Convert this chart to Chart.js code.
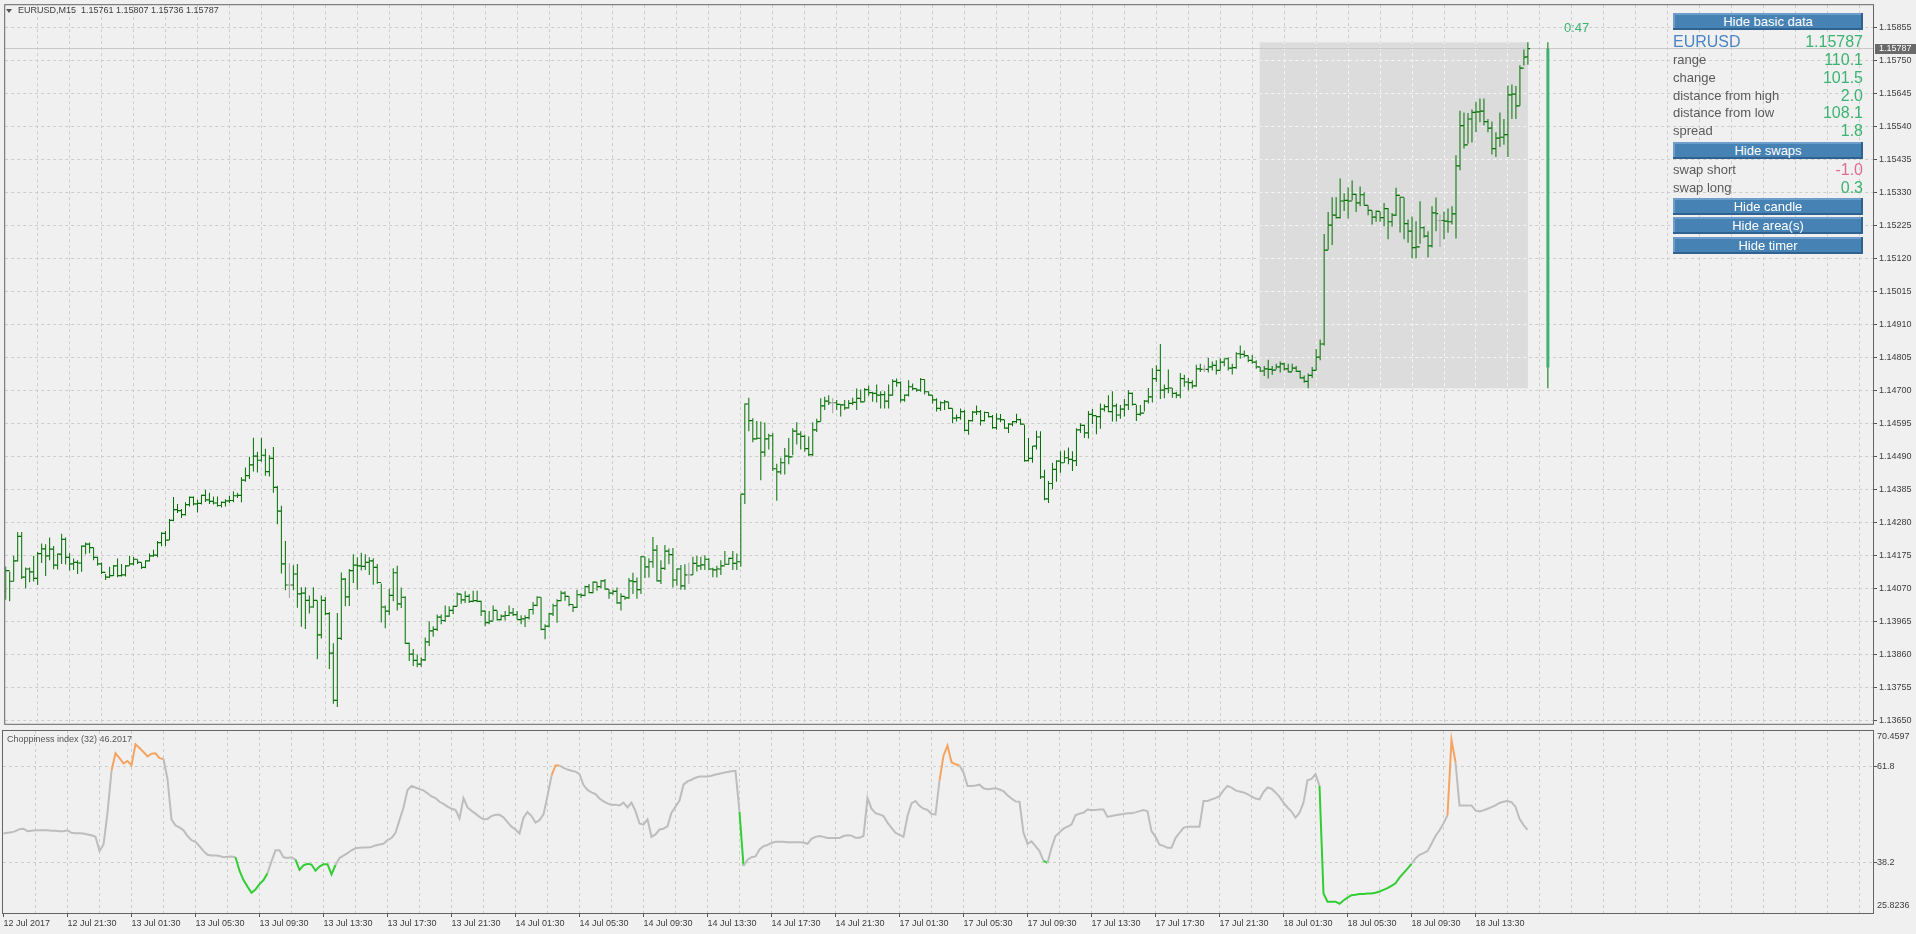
<!DOCTYPE html>
<html>
<head>
<meta charset="utf-8">
<title>EURUSD,M15</title>
<script src="https://cdn.jsdelivr.net/npm/chart.js@4.4.1/dist/chart.umd.min.js"></script>
<style>
  body { margin: 0; background: #f0f0f0; font-family: "Liberation Sans", Arial, sans-serif; }
  #wrap { position: relative; width: 1916px; height: 934px; overflow: hidden; }
  canvas { position: absolute; left: 0; }
  #priceCanvas { top: 0; }
  #chopCanvas { top: 729px; }
  .txt { position: absolute; white-space: pre; }
  #arrow { position: absolute; left: 6px; top: 9px; width: 0; height: 0;
           border-left: 3px solid transparent; border-right: 3px solid transparent; border-top: 4px solid #555; }
  .btn { position: absolute; left: 1673px; width: 190px; height: 17px; background: #4682b4; color: #fff;
         font-size: 13px; line-height: 17px; text-align: center;
         box-shadow: inset -2px -2px 0 #2f6290, inset 2px 2px 0 #6d9dcc; }
  .lbl { position: absolute; left: 1673px; font-size: 13px; color: #5a5a5a; line-height: 18px; white-space: nowrap; }
  .val { position: absolute; right: 53px; font-size: 16px; color: #3cb371; line-height: 18px; text-align: right; white-space: nowrap; }
</style>
</head>
<body>
<div id="wrap">
  <canvas id="priceCanvas" width="1916" height="729"></canvas>
  <canvas id="chopCanvas" width="1916" height="205"></canvas>
</div>
<script>
// ---- data ----
const symbol = "EURUSD,M15";
const timeLabels = ["12 Jul 2017", "12 Jul 21:30", "13 Jul 01:30", "13 Jul 05:30", "13 Jul 09:30", "13 Jul 13:30",
  "13 Jul 17:30", "13 Jul 21:30", "14 Jul 01:30", "14 Jul 05:30", "14 Jul 09:30", "14 Jul 13:30",
  "14 Jul 17:30", "14 Jul 21:30", "17 Jul 01:30", "17 Jul 05:30", "17 Jul 09:30", "17 Jul 13:30",
  "17 Jul 17:30", "17 Jul 21:30", "18 Jul 01:30", "18 Jul 05:30", "18 Jul 09:30", "18 Jul 13:30"];
const priceTicks = [1.13650, 1.13755, 1.13860, 1.13965, 1.14070, 1.14175, 1.14280, 1.14385, 1.14490, 1.14595,
  1.14700, 1.14805, 1.14910, 1.15015, 1.15120, 1.15225, 1.15330, 1.15435, 1.15540, 1.15645, 1.15750, 1.15855];
const chopLevels = [38.2, 61.8];
const chopRange = [25.8236, 70.4597];
const priceRange = [1.136383, 1.159252];

const highs = [
  1.14139,1.14123,1.14173,1.14249,1.14249,1.14136,1.14136,1.14173,1.14185,1.14212,
  1.14210,1.14231,1.14204,1.14180,1.14243,1.14231,1.14181,1.14164,1.14159,1.14206,
  1.14215,1.14215,1.14199,1.14170,1.14152,1.14115,1.14138,1.14144,1.14164,1.14147,
  1.14144,1.14173,1.14170,1.14162,1.14152,1.14159,1.14180,1.14192,1.14220,1.14248,
  1.14252,1.14290,1.14360,1.14338,1.14322,1.14343,1.14362,1.14362,1.14351,1.14367,
  1.14383,1.14374,1.14362,1.14362,1.14346,1.14353,1.14364,1.14378,1.14374,1.14423,
  1.14454,1.14488,1.14549,1.14504,1.14549,1.14514,1.14493,1.14519,1.14396,1.14332,
  1.14220,1.14149,1.14143,1.14147,1.14073,1.14073,1.14047,1.14073,1.14031,1.14047,
  1.14042,1.13994,1.13895,1.13991,1.14120,1.14102,1.14131,1.14178,1.14168,1.14183,
  1.14178,1.14168,1.14165,1.14147,1.14085,1.14015,1.14068,1.14133,1.14141,1.14072,
  1.14044,1.13897,1.13876,1.13860,1.13850,1.13913,1.13965,1.13949,1.13986,1.13986,
  1.14015,1.14012,1.14015,1.14056,1.14051,1.14060,1.14051,1.14062,1.14062,1.14030,
  1.13999,1.13997,1.14015,1.13999,1.13986,1.13997,1.14015,1.14007,1.13997,1.13984,
  1.13984,1.14004,1.14026,1.14044,1.14041,1.13955,1.13991,1.14020,1.14035,1.14062,
  1.14060,1.14044,1.14018,1.14065,1.14054,1.14078,1.14083,1.14091,1.14089,1.14096,
  1.14099,1.14067,1.14065,1.14072,1.14054,1.14044,1.14102,1.14119,1.14104,1.14172,
  1.14170,1.14165,1.14233,1.14207,1.14159,1.14207,1.14196,1.14198,1.14133,1.14144,
  1.14146,1.14152,1.14170,1.14173,1.14170,1.14175,1.14165,1.14135,1.14141,1.14159,
  1.14188,1.14167,1.14188,1.14180,1.14369,1.14658,1.14676,1.14611,1.14602,1.14600,
  1.14597,1.14561,1.14564,1.14466,1.14485,1.14516,1.14548,1.14579,1.14598,1.14569,
  1.14558,1.14553,1.14598,1.14609,1.14674,1.14679,1.14684,1.14674,1.14669,1.14655,
  1.14669,1.14669,1.14676,1.14705,1.14702,1.14707,1.14714,1.14695,1.14718,1.14697,
  1.14697,1.14718,1.14735,1.14737,1.14728,1.14686,1.14732,1.14721,1.14705,1.14739,
  1.14735,1.14697,1.14684,1.14674,1.14665,1.14669,1.14663,1.14642,1.14623,1.14642,
  1.14637,1.14606,1.14634,1.14651,1.14637,1.14632,1.14630,1.14621,1.14627,1.14624,
  1.14606,1.14595,1.14602,1.14625,1.14609,1.14590,1.14548,1.14522,1.14571,1.14569,
  1.14447,1.14411,1.14469,1.14477,1.14506,1.14508,1.14518,1.14506,1.14579,1.14595,
  1.14590,1.14634,1.14640,1.14619,1.14658,1.14655,1.14684,1.14697,1.14658,1.14653,
  1.14672,1.14700,1.14693,1.14653,1.14653,1.14669,1.14707,1.14770,1.14779,1.14847,
  1.14718,1.14766,1.14707,1.14695,1.14755,1.14749,1.14739,1.14732,1.14781,1.14784,
  1.14781,1.14803,1.14791,1.14795,1.14802,1.14800,1.14805,1.14784,1.14821,1.14842,
  1.14826,1.14810,1.14812,1.14795,1.14774,1.14777,1.14797,1.14777,1.14784,1.14791,
  1.14787,1.14784,1.14784,1.14777,1.14763,1.14747,1.14753,1.14774,1.14831,1.14861,
  1.15197,1.15267,1.15314,1.15314,1.15374,1.15327,1.15346,1.15367,1.15325,1.15348,
  1.15330,1.15288,1.15272,1.15272,1.15269,1.15296,1.15280,1.15264,1.15344,1.15316,
  1.15313,1.15243,1.15253,1.15238,1.15301,1.15222,1.15206,1.15285,1.15313,1.15259,
  1.15269,1.15278,1.15285,1.15448,1.15589,1.15584,1.15582,1.15593,1.15618,1.15628,
  1.15628,1.15563,1.15555,1.15521,1.15584,1.15563,1.15670,1.15673,1.15668,1.15734,
  1.15784,1.15807];

const lows = [
  1.14033,1.14028,1.14091,1.14155,1.14099,1.14070,1.14089,1.14091,1.14080,1.14150,
  1.14109,1.14159,1.14130,1.14129,1.14147,1.14145,1.14126,1.14128,1.14115,1.14122,
  1.14178,1.14181,1.14159,1.14141,1.14115,1.14096,1.14102,1.14109,1.14105,1.14107,
  1.14107,1.14141,1.14143,1.14147,1.14131,1.14133,1.14155,1.14170,1.14168,1.14203,
  1.14204,1.14223,1.14283,1.14309,1.14293,1.14301,1.14330,1.14333,1.14311,1.14336,
  1.14344,1.14338,1.14336,1.14329,1.14327,1.14330,1.14341,1.14343,1.14357,1.14343,
  1.14409,1.14417,1.14441,1.14438,1.14472,1.14428,1.14425,1.14374,1.14273,1.14117,
  1.14063,1.14039,1.14063,1.14008,1.13947,1.13940,1.13989,1.14008,1.13844,1.13910,
  1.13984,1.13813,1.13702,1.13692,1.13905,1.14012,1.14013,1.14086,1.14065,1.14126,
  1.14128,1.14112,1.14081,1.14084,1.13961,1.13942,1.13984,1.14028,1.13999,1.14007,
  1.13892,1.13838,1.13822,1.13818,1.13820,1.13838,1.13886,1.13915,1.13934,1.13955,
  1.13962,1.13978,1.13988,1.14012,1.14020,1.14023,1.14023,1.14025,1.14025,1.13981,
  1.13949,1.13955,1.13967,1.13967,1.13967,1.13967,1.13981,1.13981,1.13970,1.13955,
  1.13946,1.13970,1.13986,1.14012,1.13936,1.13907,1.13945,1.13981,1.13960,1.14028,
  1.14030,1.14012,1.13994,1.14007,1.14039,1.14044,1.14054,1.14054,1.14062,1.14070,
  1.14065,1.14036,1.14049,1.14020,1.13999,1.14033,1.14036,1.14051,1.14036,1.14051,
  1.14102,1.14104,1.14135,1.14091,1.14083,1.14128,1.14146,1.14072,1.14078,1.14065,
  1.14065,1.14083,1.14112,1.14123,1.14128,1.14128,1.14128,1.14105,1.14104,1.14112,
  1.14144,1.14144,1.14128,1.14128,1.14138,1.14338,1.14569,1.14534,1.14543,1.14413,
  1.14488,1.14511,1.14443,1.14348,1.14432,1.14432,1.14464,1.14493,1.14527,1.14511,
  1.14504,1.14490,1.14490,1.14567,1.14600,1.14637,1.14653,1.14627,1.14637,1.14616,
  1.14637,1.14642,1.14653,1.14637,1.14661,1.14663,1.14682,1.14663,1.14661,1.14642,
  1.14642,1.14642,1.14682,1.14711,1.14661,1.14663,1.14680,1.14700,1.14695,1.14695,
  1.14686,1.14682,1.14658,1.14632,1.14634,1.14637,1.14640,1.14595,1.14600,1.14606,
  1.14569,1.14558,1.14600,1.14621,1.14588,1.14600,1.14613,1.14577,1.14574,1.14598,
  1.14577,1.14564,1.14585,1.14595,1.14590,1.14472,1.14474,1.14469,1.14511,1.14417,
  1.14350,1.14341,1.14385,1.14409,1.14437,1.14469,1.14464,1.14443,1.14459,1.14564,
  1.14548,1.14546,1.14592,1.14560,1.14577,1.14632,1.14630,1.14600,1.14600,1.14609,
  1.14616,1.14637,1.14651,1.14602,1.14619,1.14632,1.14658,1.14661,1.14726,1.14672,
  1.14674,1.14690,1.14676,1.14674,1.14674,1.14711,1.14700,1.14705,1.14711,1.14758,
  1.14758,1.14756,1.14763,1.14750,1.14763,1.14776,1.14763,1.14750,1.14768,1.14800,
  1.14805,1.14789,1.14784,1.14768,1.14758,1.14745,1.14737,1.14749,1.14766,1.14756,
  1.14763,1.14756,1.14760,1.14758,1.14737,1.14724,1.14706,1.14739,1.14763,1.14795,
  1.14842,1.15146,1.15162,1.15246,1.15246,1.15270,1.15246,1.15304,1.15267,1.15285,
  1.15288,1.15257,1.15227,1.15236,1.15236,1.15222,1.15180,1.15220,1.15254,1.15202,
  1.15180,1.15169,1.15119,1.15119,1.15166,1.15185,1.15122,1.15154,1.15206,1.15156,
  1.15180,1.15201,1.15227,1.15183,1.15400,1.15469,1.15484,1.15488,1.15521,1.15553,
  1.15542,1.15521,1.15450,1.15442,1.15474,1.15481,1.15442,1.15563,1.15563,1.15605,
  1.15733,1.15736];

const opens = [
  1.14060,1.14126,1.14092,1.14157,1.14235,1.14105,1.14131,1.14122,1.14101,1.14180,
  1.14195,1.14173,1.14194,1.14143,1.14178,1.14225,1.14168,1.14147,1.14152,1.14150,
  1.14204,1.14210,1.14199,1.14168,1.14147,1.14120,1.14105,1.14110,1.14141,1.14110,
  1.14112,1.14141,1.14147,1.14162,1.14152,1.14136,1.14157,1.14173,1.14175,1.14215,
  1.14244,1.14223,1.14286,1.14320,1.14317,1.14304,1.14336,1.14359,1.14338,1.14340,
  1.14365,1.14351,1.14346,1.14341,1.14333,1.14343,1.14348,1.14349,1.14364,1.14365,
  1.14414,1.14428,1.14462,1.14490,1.14477,1.14493,1.14441,1.14483,1.14391,1.14315,
  1.14147,1.14080,1.14080,1.14115,1.14052,1.14054,1.14031,1.14010,1.14031,1.13921,
  1.14031,1.13989,1.13863,1.13713,1.13910,1.14099,1.14042,1.14126,1.14143,1.14141,
  1.14139,1.14152,1.14157,1.14136,1.14088,1.14010,1.13997,1.14047,1.14119,1.14020,
  1.14041,1.13894,1.13860,1.13840,1.13828,1.13842,1.13899,1.13934,1.13939,1.13978,
  1.13967,1.13981,1.13999,1.14012,1.14051,1.14033,1.14044,1.14028,1.14030,1.14028,
  1.13997,1.13960,1.13965,1.13999,1.13970,1.13981,1.13983,1.13991,1.13986,1.13970,
  1.13972,1.13976,1.14002,1.14015,1.14041,1.13939,1.13949,1.13988,1.14014,1.14030,
  1.14054,1.14044,1.14018,1.14009,1.14049,1.14047,1.14075,1.14056,1.14089,1.14075,
  1.14093,1.14067,1.14054,1.14060,1.14023,1.14044,1.14039,1.14093,1.14091,1.14065,
  1.14170,1.14138,1.14154,1.14191,1.14093,1.14133,1.14188,1.14177,1.14096,1.14131,
  1.14077,1.14112,1.14112,1.14149,1.14141,1.14144,1.14162,1.14131,1.14128,1.14131,
  1.14141,1.14146,1.14165,1.14149,1.14154,1.14369,1.14656,1.14603,1.14545,1.14547,
  1.14503,1.14545,1.14555,1.14450,1.14440,1.14469,1.14490,1.14488,1.14570,1.14560,
  1.14553,1.14514,1.14495,1.14574,1.14600,1.14650,1.14665,1.14660,1.14660,1.14655,
  1.14653,1.14644,1.14658,1.14661,1.14674,1.14663,1.14702,1.14692,1.14690,1.14684,
  1.14686,1.14665,1.14684,1.14728,1.14724,1.14669,1.14684,1.14711,1.14705,1.14700,
  1.14734,1.14695,1.14684,1.14669,1.14642,1.14660,1.14663,1.14642,1.14611,1.14613,
  1.14632,1.14572,1.14603,1.14630,1.14632,1.14603,1.14629,1.14616,1.14581,1.14609,
  1.14606,1.14579,1.14592,1.14600,1.14606,1.14592,1.14476,1.14483,1.14522,1.14551,
  1.14424,1.14354,1.14403,1.14448,1.14474,1.14469,1.14485,1.14480,1.14476,1.14574,
  1.14588,1.14564,1.14623,1.14619,1.14616,1.14640,1.14648,1.14632,1.14650,1.14621,
  1.14640,1.14653,1.14690,1.14655,1.14623,1.14627,1.14665,1.14679,1.14737,1.14763,
  1.14700,1.14705,1.14707,1.14690,1.14684,1.14737,1.14726,1.14724,1.14714,1.14768,
  1.14766,1.14766,1.14774,1.14779,1.14763,1.14789,1.14800,1.14770,1.14772,1.14816,
  1.14814,1.14810,1.14795,1.14789,1.14774,1.14761,1.14768,1.14766,1.14764,1.14774,
  1.14784,1.14768,1.14758,1.14770,1.14760,1.14739,1.14728,1.14747,1.14763,1.14805,
  1.14847,1.15146,1.15225,1.15257,1.15249,1.15302,1.15304,1.15302,1.15323,1.15296,
  1.15322,1.15288,1.15272,1.15251,1.15269,1.15249,1.15278,1.15236,1.15257,1.15320,
  1.15314,1.15230,1.15206,1.15154,1.15156,1.15217,1.15190,1.15159,1.15264,1.15240,
  1.15240,1.15238,1.15236,1.15261,1.15414,1.15542,1.15481,1.15563,1.15584,1.15586,
  1.15588,1.15555,1.15534,1.15469,1.15502,1.15505,1.15513,1.15640,1.15642,1.15605,
  1.15725,1.15761];

const closes = [
  1.14126,1.14092,1.14157,1.14235,1.14105,1.14131,1.14122,1.14101,1.14180,1.14195,
  1.14173,1.14194,1.14143,1.14178,1.14225,1.14168,1.14147,1.14152,1.14150,1.14204,
  1.14210,1.14199,1.14168,1.14147,1.14120,1.14105,1.14110,1.14141,1.14110,1.14112,
  1.14141,1.14147,1.14162,1.14152,1.14136,1.14157,1.14173,1.14175,1.14215,1.14244,
  1.14223,1.14286,1.14320,1.14317,1.14304,1.14336,1.14359,1.14338,1.14340,1.14365,
  1.14351,1.14346,1.14341,1.14333,1.14343,1.14348,1.14349,1.14364,1.14365,1.14414,
  1.14428,1.14462,1.14490,1.14477,1.14493,1.14441,1.14483,1.14391,1.14315,1.14147,
  1.14080,1.14080,1.14115,1.14052,1.14054,1.14031,1.14010,1.14031,1.13921,1.14031,
  1.13989,1.13863,1.13713,1.13910,1.14099,1.14042,1.14126,1.14143,1.14141,1.14139,
  1.14152,1.14157,1.14136,1.14088,1.14010,1.13997,1.14047,1.14119,1.14020,1.14041,
  1.13894,1.13860,1.13840,1.13828,1.13842,1.13899,1.13934,1.13939,1.13978,1.13967,
  1.13981,1.13999,1.14012,1.14051,1.14033,1.14044,1.14028,1.14030,1.14028,1.13997,
  1.13960,1.13965,1.13999,1.13970,1.13981,1.13983,1.13991,1.13986,1.13970,1.13972,
  1.13976,1.14002,1.14015,1.14041,1.13939,1.13949,1.13988,1.14014,1.14030,1.14054,
  1.14044,1.14018,1.14009,1.14049,1.14047,1.14075,1.14056,1.14089,1.14075,1.14093,
  1.14067,1.14054,1.14060,1.14023,1.14044,1.14039,1.14093,1.14091,1.14065,1.14170,
  1.14138,1.14154,1.14191,1.14093,1.14133,1.14188,1.14177,1.14096,1.14131,1.14077,
  1.14112,1.14112,1.14149,1.14141,1.14144,1.14162,1.14131,1.14128,1.14131,1.14141,
  1.14146,1.14165,1.14149,1.14154,1.14369,1.14656,1.14603,1.14545,1.14547,1.14503,
  1.14545,1.14555,1.14450,1.14440,1.14469,1.14490,1.14488,1.14570,1.14560,1.14553,
  1.14514,1.14495,1.14574,1.14600,1.14650,1.14665,1.14660,1.14660,1.14655,1.14653,
  1.14644,1.14658,1.14661,1.14674,1.14663,1.14702,1.14692,1.14690,1.14684,1.14686,
  1.14665,1.14684,1.14728,1.14724,1.14669,1.14684,1.14711,1.14705,1.14700,1.14734,
  1.14695,1.14684,1.14669,1.14642,1.14660,1.14663,1.14642,1.14611,1.14613,1.14632,
  1.14572,1.14603,1.14630,1.14632,1.14603,1.14629,1.14616,1.14581,1.14609,1.14606,
  1.14579,1.14592,1.14600,1.14606,1.14592,1.14476,1.14483,1.14522,1.14551,1.14424,
  1.14354,1.14403,1.14448,1.14474,1.14469,1.14485,1.14480,1.14476,1.14574,1.14588,
  1.14564,1.14623,1.14619,1.14616,1.14640,1.14648,1.14632,1.14650,1.14621,1.14640,
  1.14653,1.14690,1.14655,1.14623,1.14627,1.14665,1.14679,1.14737,1.14763,1.14700,
  1.14705,1.14707,1.14690,1.14684,1.14737,1.14726,1.14724,1.14714,1.14768,1.14766,
  1.14766,1.14774,1.14779,1.14763,1.14789,1.14800,1.14770,1.14772,1.14816,1.14814,
  1.14810,1.14795,1.14789,1.14774,1.14761,1.14768,1.14766,1.14764,1.14774,1.14784,
  1.14768,1.14758,1.14770,1.14760,1.14739,1.14728,1.14747,1.14763,1.14805,1.14847,
  1.15146,1.15225,1.15257,1.15249,1.15302,1.15304,1.15302,1.15323,1.15296,1.15322,
  1.15288,1.15272,1.15251,1.15269,1.15249,1.15278,1.15236,1.15257,1.15320,1.15314,
  1.15230,1.15206,1.15154,1.15156,1.15217,1.15190,1.15159,1.15264,1.15262,1.15240,
  1.15238,1.15236,1.15261,1.15414,1.15542,1.15481,1.15563,1.15584,1.15586,1.15588,
  1.15555,1.15534,1.15469,1.15502,1.15505,1.15513,1.15640,1.15642,1.15605,1.15725,
  1.15760,1.15787];

// Choppiness index (32), one value per bar
const chop = [
  45.3,45.5,45.6,45.9,46.4,46.5,45.9,46.0,46.1,46.1,
  46.1,46.1,46.0,46.0,45.9,45.9,46.1,45.5,45.4,45.4,
  45.3,45.1,44.9,44.5,41.0,42.6,50.4,60.7,65.0,63.8,
  62.5,63.1,62.1,67.2,66.3,65.3,64.2,64.9,65.0,63.8,
  63.6,58.7,48.8,47.3,46.8,46.1,44.7,43.7,43.3,42.2,
  41.0,40.1,39.9,39.9,39.8,39.5,39.6,39.7,39.5,36.2,
  33.9,32.3,30.8,31.6,32.9,33.9,35.6,38.5,41.2,41.2,
  39.5,39.3,39.5,38.9,36.4,37.5,37.9,37.7,36.2,37.2,
  37.8,37.8,35.3,37.6,39.3,39.9,40.5,41.2,41.7,41.8,
  41.9,41.9,42.0,42.4,42.6,42.8,43.7,44.2,45.5,48.6,
  51.7,56.0,57.0,56.6,56.2,55.9,55.2,54.4,54.0,53.1,
  52.6,51.9,51.4,51.1,49.0,54.0,51.7,50.9,50.2,49.4,
  48.8,48.9,49.6,49.9,49.9,49.3,48.1,47.0,46.3,45.3,
  49.2,50.6,49.6,48.0,48.6,50.0,54.5,59.5,62.0,62.0,
  61.4,61.0,60.7,60.5,59.9,57.2,56.0,55.4,55.0,53.9,
  53.2,52.7,52.3,52.4,52.2,52.9,51.7,52.9,50.8,47.8,
  47.5,48.8,44.5,45.1,46.3,46.5,47.1,50.4,51.9,53.4,
  57.3,58.1,58.5,59.0,59.3,59.3,59.3,59.5,59.8,60.0,
  60.2,60.4,60.6,60.7,50.6,37.4,38.9,39.5,39.7,41.4,
  42.2,42.5,43.0,43.3,43.3,43.3,43.2,43.2,43.2,43.2,
  43.1,42.8,44.0,44.5,44.7,44.5,44.2,44.2,44.2,44.2,
  44.7,44.9,44.8,44.3,44.3,44.7,54.0,51.4,50.3,50.0,
  49.6,48.0,46.7,45.5,45.0,44.5,49.6,52.7,53.3,52.1,
  51.4,51.1,50.1,50.0,58.3,64.4,66.9,62.8,62.3,62.0,
  60.3,57.0,57.0,57.1,57.3,56.4,56.2,56.3,56.4,56.1,
  55.7,54.7,53.9,53.2,53.1,45.5,42.8,43.4,42.2,41.0,
  38.6,38.1,41.8,44.7,45.6,46.5,47.0,47.5,49.8,50.2,
  50.4,51.2,51.1,51.1,51.2,51.2,49.4,49.6,49.8,50.0,
  50.1,50.3,50.3,50.5,50.8,51.1,50.8,45.9,44.5,42.6,
  42.3,41.8,41.8,44.2,45.5,46.7,47.0,47.0,47.0,47.0,
  53.3,53.3,53.7,54.0,54.5,55.9,57.0,56.6,55.9,55.6,
  55.4,55.0,54.4,53.9,53.7,55.5,56.6,56.3,55.4,54.3,
  52.9,51.7,50.7,49.2,50.4,52.9,58.4,58.7,59.9,57.0,
  30.6,28.6,28.6,28.6,28.1,28.9,29.6,30.2,30.3,30.5,
  30.5,30.6,30.6,30.8,31.1,31.5,31.9,32.5,33.1,34.5,
  35.6,36.7,37.9,39.2,40.1,40.5,41.0,42.8,44.7,46.1,
  47.8,49.8,68.3,62.8,52.2,52.2,52.2,52.2,51.0,50.7,
  51.0,51.4,51.8,52.2,52.8,53.1,53.3,53.0,51.9,48.9,
  47.4,46.2017];

// today's candle / range box (from the info panel)
const dayOpen = 1.14772, dayHigh = 1.15807, dayLow = 1.14706, dayClose = 1.15787;
const dayStartBar = 314;
const infoRows = [["range", "110.1"], ["change", "101.5"], ["distance from high", "2.0"], ["distance from low", "108.1"], ["spread", "1.8"]];
const swapRows = [["swap short", "-1.0"], ["swap long", "0.3"]];
const buttonLabels = ["Hide basic data", "Hide swaps", "Hide candle", "Hide area(s)", "Hide timer"];
const timerText = "0:47";

// ---- look ----
const BAR_GREEN = "#006f00", DOJI_GRAY = "#a0a0a0";
const GRID = "#cdcdcd", AXIS_TEXT = "#3c3c3c", FRAME = "#646464";
const LINE_GRAY = "#bdbdbd", LINE_ORANGE = "#f4a460", LINE_GREEN = "#32cd32";
const gridStep = 8, labelStep = 16;
const lastBar = closes.length - 1;
const candleBar = lastBar + 5;
const xMin = -0.125, xMax = xMin + 1870 / 4;

Chart.defaults.font.family = '"Liberation Sans", Arial, sans-serif';
Chart.defaults.font.size = 9;
Chart.defaults.color = AXIS_TEXT;

const barColor = i => opens[i] === closes[i] ? DOJI_GRAY : BAR_GREEN;
const align = p => Math.round(p - 0.5) + 0.5;

function gridTicks(scale) {
  const t = [];
  for (let v = 0; v <= scale.max; v += gridStep) t.push({ value: v });
  scale.ticks = t;
}

// frame round each panel, like the terminal draws it
const framePlugin = {
  id: "frame",
  afterDraw(chart) {
    const a = chart.chartArea, c = chart.ctx;
    c.save();
    c.strokeStyle = FRAME;
    c.lineWidth = 1;
    c.strokeRect(a.left - 0.5, a.top - 0.5, a.right - a.left + 1, a.bottom - a.top + 1);
    c.restore();
  }
};

// today's range box, lighter grid inside it, and the bid line
const dayAreaPlugin = {
  id: "dayArea",
  beforeDatasetsDraw(chart) {
    const x = chart.scales.x, y = chart.scales.y, c = chart.ctx, a = chart.chartArea;
    const left = x.getPixelForValue(dayStartBar) - 0.5;
    const right = x.getPixelForValue(lastBar);
    const top = y.getPixelForValue(dayHigh);
    const bottom = y.getPixelForValue(dayLow);
    c.save();
    c.fillStyle = "#dcdcdc";
    c.fillRect(left, top, right - left, bottom - top);
    c.beginPath();
    c.rect(left, top, right - left, bottom - top);
    c.clip();
    c.strokeStyle = "#f6f6f6";
    c.lineWidth = 1;
    c.setLineDash([3, 3]);
    x.ticks.forEach(t => {
      const px = align(x.getPixelForValue(t.value));
      c.beginPath(); c.moveTo(px, a.top); c.lineTo(px, a.bottom); c.stroke();
    });
    y.ticks.forEach(t => {
      const py = align(y.getPixelForValue(t.value));
      c.beginPath(); c.moveTo(a.left, py); c.lineTo(a.right, py); c.stroke();
    });
    c.restore();

    const by = align(y.getPixelForValue(closes[lastBar]));
    c.save();
    c.strokeStyle = "#c8c8c8";
    c.beginPath(); c.moveTo(a.left, by); c.lineTo(a.right, by); c.stroke();
    c.restore();
  },
  afterDraw(chart) {
    const y = chart.scales.y, c = chart.ctx, a = chart.chartArea;
    const py = Math.round(y.getPixelForValue(closes[lastBar]));
    c.save();
    c.fillStyle = "#6a6a6a";
    c.fillRect(a.right + 2, py - 5, chart.width - a.right - 2, 10);
    c.fillStyle = "#ffffff";
    c.font = '9px "Liberation Sans", Arial, sans-serif';
    c.textBaseline = "middle";
    c.fillText(closes[lastBar].toFixed(5), a.right + 6, py);
    c.restore();
  }
};

const xGridColor = ctx => (ctx.tick && ctx.tick.value === 0) ? "transparent" : GRID;

new Chart(document.getElementById("priceCanvas"), {
  type: "bar",
  data: {
    datasets: [
      {
        type: "bar",
        data: highs.map((h, i) => ({ x: i, y: [lows[i], h] })),
        backgroundColor: ctx => barColor(ctx.dataIndex),
        borderWidth: 0,
        barThickness: 1,
        maxBarThickness: 1,
        inflateAmount: 0,
        grouped: false,
        order: 3
      },
      {
        type: "line",
        data: opens.map((o, i) => ({ x: i - 0.3, y: o })),
        showLine: false,
        pointStyle: "line",
        pointRadius: 1,
        pointBorderWidth: 1.2,
        pointBorderColor: ctx => barColor(ctx.dataIndex),
        order: 2
      },
      {
        type: "line",
        data: closes.map((cl, i) => ({ x: i + 0.3, y: cl })),
        showLine: false,
        pointStyle: "line",
        pointRadius: 1,
        pointBorderWidth: 1.2,
        pointBorderColor: ctx => barColor(ctx.dataIndex),
        order: 2
      },
      {
        type: "bar",
        data: [{ x: candleBar, y: [dayLow, dayHigh] }],
        backgroundColor: BAR_GREEN,
        borderWidth: 0,
        barThickness: 1,
        maxBarThickness: 1,
        inflateAmount: 0,
        grouped: false,
        order: 1
      },
      {
        type: "bar",
        data: [{ x: candleBar, y: [dayOpen, dayClose] }],
        backgroundColor: "#3cb371",
        borderWidth: 0,
        barThickness: 3,
        maxBarThickness: 3,
        inflateAmount: 0,
        grouped: false,
        order: 0
      }
    ]
  },
  options: {
    responsive: false,
    devicePixelRatio: 1,
    animation: false,
    events: [],
    layout: { padding: { left: 3, top: 2, right: 0, bottom: 1 } },
    plugins: { legend: { display: false }, tooltip: { enabled: false } },
    scales: {
      x: {
        type: "linear",
        min: xMin,
        max: xMax,
        bounds: "data",
        offset: false,
        afterBuildTicks: gridTicks,
        afterFit: s => { s.height = 0; s.paddingLeft = 0; s.paddingRight = 0; },
        ticks: { display: false },
        grid: { offset: false, color: xGridColor, drawTicks: false },
        border: { display: false, dash: [3, 3] }
      },
      y: {
        type: "linear",
        position: "right",
        min: priceRange[0],
        max: priceRange[1],
        bounds: "data",
        beginAtZero: false,
        afterBuildTicks: s => { s.ticks = priceTicks.map(v => ({ value: v })); },
        afterFit: s => { s.width = 43; s.paddingTop = 0; s.paddingBottom = 0; },
        ticks: { autoSkip: false, padding: 2, color: AXIS_TEXT, callback: v => v.toFixed(5) },
        grid: { color: GRID, tickColor: "#555", tickLength: 4, tickBorderDash: [] },
        border: { display: false, dash: [3, 3] }
      }
    }
  },
  plugins: [dayAreaPlugin, framePlugin]
});

// indicator window
const chopLabelsPlugin = {
  id: "chopLabels",
  afterDraw(chart) {
    const a = chart.chartArea, c = chart.ctx;
    c.save();
    c.fillStyle = AXIS_TEXT;
    c.font = '9px "Liberation Sans", Arial, sans-serif';
    c.textBaseline = "middle";
    c.fillText(chopRange[1].toFixed(4), a.right + 4, a.top + 6);
    c.fillText(chopRange[0].toFixed(4), a.right + 4, a.bottom - 7);
    c.restore();
  }
};

const segColor = ctx => {
  const v = ctx.p1.parsed.y;
  if (v > chopLevels[1]) return LINE_ORANGE;
  if (v < chopLevels[0]) return LINE_GREEN;
  return LINE_GRAY;
};

new Chart(document.getElementById("chopCanvas"), {
  type: "line",
  data: {
    datasets: [{
      data: chop.map((v, i) => ({ x: i, y: v })),
      borderColor: LINE_GRAY,
      borderWidth: 2,
      pointRadius: 0,
      tension: 0,
      segment: { borderColor: segColor }
    }]
  },
  options: {
    responsive: false,
    devicePixelRatio: 1,
    animation: false,
    events: [],
    layout: { padding: { left: 3, top: 2, right: 0, bottom: 0 } },
    plugins: { legend: { display: false }, tooltip: { enabled: false } },
    scales: {
      x: {
        type: "linear",
        min: xMin,
        max: xMax,
        bounds: "data",
        offset: false,
        afterBuildTicks: gridTicks,
        afterFit: s => { s.height = 21; s.paddingLeft = 0; s.paddingRight = 0; },
        ticks: {
          autoSkip: false, maxRotation: 0, minRotation: 0, align: "start", padding: 1, color: AXIS_TEXT,
          callback: v => (v % labelStep === 0 && timeLabels[v / labelStep]) || ""
        },
        grid: {
          offset: false,
          color: xGridColor,
          tickLength: 4,
          tickBorderDash: [],
          tickColor: ctx => (ctx.tick && ctx.tick.value % labelStep === 0 && ctx.tick.value / labelStep < timeLabels.length) ? "#555" : "transparent"
        },
        border: { display: false, dash: [3, 3] }
      },
      y: {
        type: "linear",
        position: "right",
        min: chopRange[0],
        max: chopRange[1],
        bounds: "data",
        afterBuildTicks: s => { s.ticks = [chopRange[0], ...chopLevels, chopRange[1]].map(v => ({ value: v })); },
        afterFit: s => { s.width = 43; s.paddingTop = 0; s.paddingBottom = 0; },
        ticks: { autoSkip: false, padding: 0, color: AXIS_TEXT, callback: v => chopLevels.includes(v) ? String(v) : "" },
        grid: {
          color: ctx => (ctx.tick && chopLevels.includes(ctx.tick.value)) ? GRID : "transparent",
          tickColor: ctx => (ctx.tick && chopLevels.includes(ctx.tick.value)) ? "#555" : "transparent",
          tickLength: 4,
          tickBorderDash: []
        },
        border: { display: false, dash: [3, 3] }
      }
    }
  },
  plugins: [chopLabelsPlugin, framePlugin]
});

// ---- text overlays: header, indicator title, info panel, timer ----
const wrap = document.getElementById("wrap");
function put(cls, text, style) {
  const d = document.createElement("div");
  d.className = cls;
  d.textContent = text;
  Object.assign(d.style, style);
  wrap.appendChild(d);
  return d;
}
const arrow = document.createElement("div");
arrow.id = "arrow";
wrap.appendChild(arrow);
put("txt", symbol + "  " + [opens[lastBar], highs[lastBar], lows[lastBar], closes[lastBar]].map(v => v.toFixed(5)).join(" "),
  { left: "18px", top: "5px", fontSize: "9px", lineHeight: "11px", color: "#3c3c3c" });
put("txt", "Choppiness index (32) " + chop[lastBar].toFixed(4),
  { left: "7px", top: "734px", fontSize: "9px", lineHeight: "11px", color: "#555" });
put("txt", timerText, { left: "1564px", top: "20px", fontSize: "13px", lineHeight: "16px", color: "#3cb371" });

const buttonTops = [13, 142, 198, 217, 237];
buttonLabels.forEach((b, i) => put("btn", b, { top: buttonTops[i] + "px" }));

put("lbl", "EURUSD", { top: "33px", fontSize: "16px", color: "#4a86c5" });
put("val", closes[lastBar].toFixed(5), { top: "33px" });
const infoTops = [51, 69, 87, 104, 122];
infoRows.forEach((r, i) => {
  put("lbl", r[0], { top: infoTops[i] + "px" });
  put("val", r[1], { top: infoTops[i] + "px" });
});
const swapTops = [161, 179];
swapRows.forEach((r, i) => {
  put("lbl", r[0], { top: swapTops[i] + "px" });
  put("val", r[1], { top: swapTops[i] + "px", color: r[1].startsWith("-") ? "#e06c95" : "#3cb371" });
});
</script>
</body>
</html>
